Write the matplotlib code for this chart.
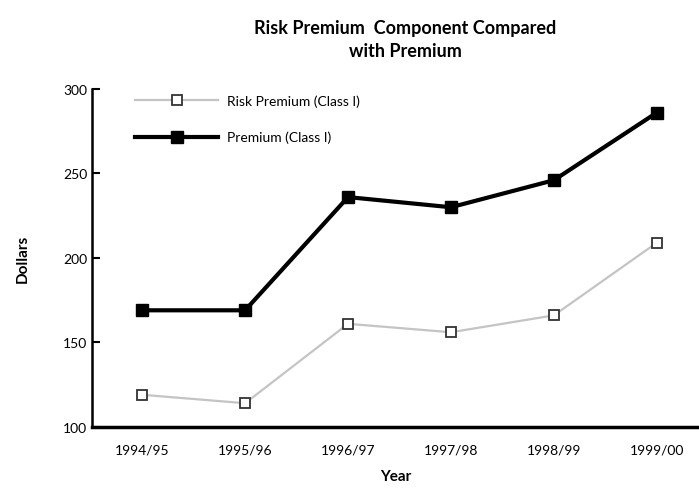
import matplotlib.pyplot as plt

years = ['1994/95', '1995/96', '1996/97', '1997/98', '1998/99', '1999/00']
risk_premium = [119, 114, 161, 156, 166, 209]
premium = [169, 169, 236, 230, 246, 286]

plt.rcParams['font.family'] = ['Lato', 'DejaVu Sans']

fig = plt.figure(figsize=(6.99, 4.89), dpi=100)
ax = fig.add_axes([0.132, 0.125, 0.868, 0.691])

x = range(len(years))
ax.plot(x, risk_premium, color='#c4c4c4', linewidth=1.6, marker='s',
        markersize=7, markerfacecolor='white', markeredgecolor='#333333',
        markeredgewidth=1.3, label='Risk Premium (Class I)')
ax.plot(x, premium, color='black', linewidth=3, marker='s',
        markersize=8, markerfacecolor='black', markeredgecolor='black',
        label='Premium (Class I)')

ax.set_xlim(-0.485, 5.41)
ax.set_ylim(100, 300)
ax.set_yticks([100, 150, 200, 250, 300])
ax.set_xticks(list(x))
ax.set_xticklabels(years)
ax.tick_params(axis='y', direction='in', length=6, width=1.5, labelsize=10)
ax.tick_params(axis='x', length=0, labelsize=10, pad=12)

ax.spines['top'].set_visible(False)
ax.spines['right'].set_visible(False)
ax.spines['left'].set_linewidth(1.8)
ax.spines['bottom'].set_linewidth(2.5)

ax.set_xlabel('Year', fontsize=11, fontweight='bold', labelpad=10)
ax.set_ylabel('Dollars', fontsize=11, fontweight='bold', labelpad=24)
fig.suptitle('Risk Premium  Component Compared\nwith Premium', x=0.58, y=0.96,
             fontsize=13, fontweight='bold', linespacing=1.45)

ax.legend(loc='upper left', bbox_to_anchor=(0.05, 1.02), frameon=False,
          fontsize=10, handlelength=6, handletextpad=0.6, labelspacing=1.7)

fig.savefig('out.png', dpi=100)
